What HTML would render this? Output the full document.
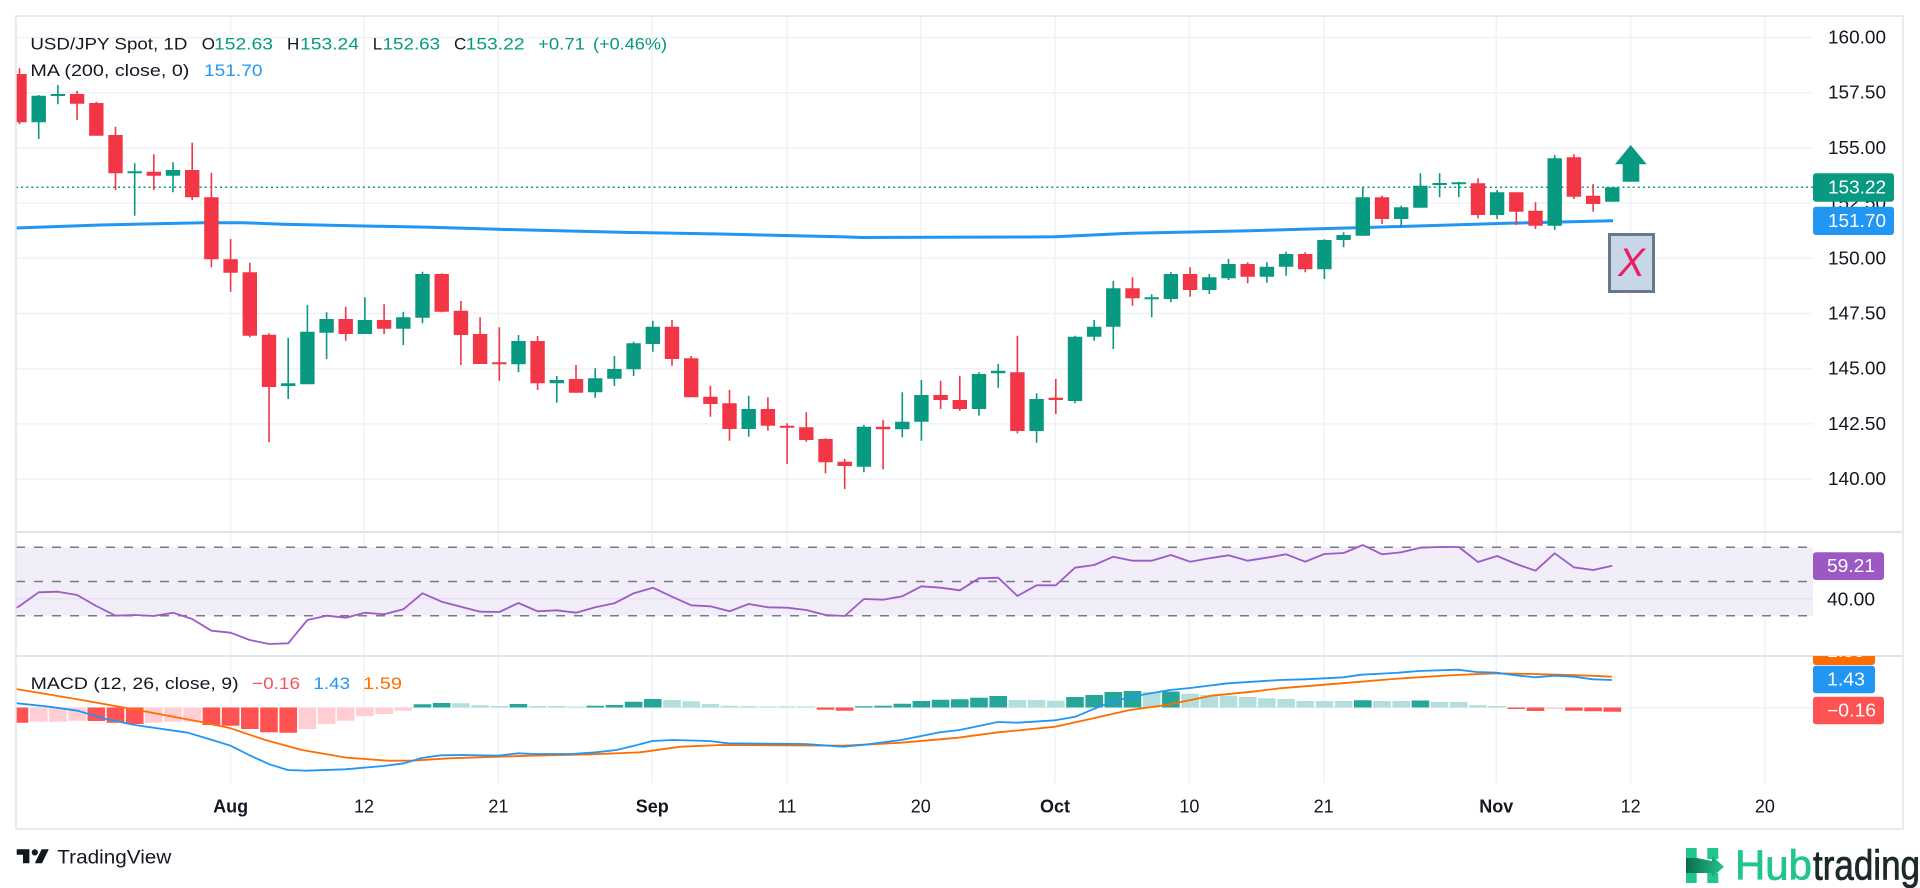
<!DOCTYPE html>
<html><head><meta charset="utf-8"><style>
html,body{margin:0;padding:0;background:#fff;}
svg{display:block;font-family:"Liberation Sans",Arial,sans-serif;}
</style></head><body>
<svg width="1920" height="888" viewBox="0 0 1920 888" xmlns="http://www.w3.org/2000/svg">
<defs>
<clipPath id="cm"><rect x="16" y="16" width="1797" height="516"/></clipPath>
<clipPath id="cr"><rect x="16" y="532" width="1797" height="124"/></clipPath>
<clipPath id="cd"><rect x="16" y="656" width="1797" height="127"/></clipPath>
<clipPath id="co"><rect x="1800" y="656" width="120" height="40"/></clipPath>
<linearGradient id="hg" x1="0" y1="0" x2="1" y2="0"><stop offset="0" stop-color="#0c6b48"/><stop offset="1" stop-color="#22c58b"/></linearGradient>
</defs>
<rect x="0" y="0" width="1920" height="888" fill="#fff"/>

<!-- gridlines -->
<g stroke="#f0f2f6" stroke-width="1.5">
<line x1="16" x2="1813" y1="37.5" y2="37.5"/><line x1="16" x2="1813" y1="92.7" y2="92.7"/><line x1="16" x2="1813" y1="147.9" y2="147.9"/><line x1="16" x2="1813" y1="203.1" y2="203.1"/><line x1="16" x2="1813" y1="258.3" y2="258.3"/><line x1="16" x2="1813" y1="313.5" y2="313.5"/><line x1="16" x2="1813" y1="368.7" y2="368.7"/><line x1="16" x2="1813" y1="423.9" y2="423.9"/><line x1="16" x2="1813" y1="479.1" y2="479.1"/>
<line x1="230.6" x2="230.6" y1="16" y2="783"/><line x1="364" x2="364" y1="16" y2="783"/><line x1="498.4" x2="498.4" y1="16" y2="783"/><line x1="652.2" x2="652.2" y1="16" y2="783"/><line x1="787" x2="787" y1="16" y2="783"/><line x1="920.8" x2="920.8" y1="16" y2="783"/><line x1="1055" x2="1055" y1="16" y2="783"/><line x1="1189.4" x2="1189.4" y1="16" y2="783"/><line x1="1323.7" x2="1323.7" y1="16" y2="783"/><line x1="1496.3" x2="1496.3" y1="16" y2="783"/><line x1="1630.6" x2="1630.6" y1="16" y2="783"/><line x1="1764.9" x2="1764.9" y1="16" y2="783"/>
<line x1="16" x2="1813" y1="707.6" y2="707.6"/>
</g>

<!-- main pane -->
<g clip-path="url(#cm)">
<line x1="16" x2="1813" y1="187.3" y2="187.3" stroke="#089981" stroke-width="1.5" stroke-dasharray="2 3.1"/>
<polyline fill="none" stroke="#2196f3" stroke-width="3" stroke-linejoin="round" points="16,228 100,225 203,222.7 243,222.7 283,224.3 430,227.3 498,229.3 620,232.3 720,234 840,236.8 863,237.5 1030,237 1055,236.7 1130,233.3 1250,230.7 1373,227.3 1507,223.3 1613,220.7"/>
<path stroke="#089981" stroke-width="1.6" fill="none" d="M38.7 95V139M57.9 85V104.3M134.7 163.3V215.7M173 162.3V192.3M288.2 337.7V399M307.4 305V384.3M326.6 312.3V359M364.9 297.3V334M403.3 311.7V345M422.5 271.7V323.3M518.5 335V372.3M556.8 376V402.7M595.2 368.3V397.7M614.4 356V386M633.6 341.7V376M652.8 320.7V351.7M748.7 395.7V436.7M863.9 425V472.3M902.3 392.3V437.3M921.4 380V440.7M979 372.3V415.7M998.2 364V387.7M1036.6 393.3V442.7M1075 335.7V403.3M1094.2 320V340.7M1113.3 280.7V349M1151.7 294.3V317.3M1170.9 272.3V302.3M1209.3 274V294M1228.5 259V280M1266.9 262.3V282.7M1286.1 251.7V275.7M1324.4 239.3V279M1343.6 232.3V247.3M1362.8 186.7V235.7M1401.2 205.7V226.7M1420.4 173.3V207.7M1439.6 173.3V197.3M1458.8 181.7V197.3M1497.1 190V219M1554.7 155V230M1612.3 186.7V201.7"/>
<path fill="#089981" d="M31.5 95.7h14.4V122.3h-14.4ZM50.7 94h14.4V96h-14.4ZM127.5 171.3h14.4V173.3h-14.4ZM165.8 170h14.4V175.7h-14.4ZM281 383.3h14.4V386h-14.4ZM300.2 331.7h14.4V384.3h-14.4ZM319.4 319h14.4V332.7h-14.4ZM357.7 320h14.4V334h-14.4ZM396.1 317.3h14.4V328.7h-14.4ZM415.3 274h14.4V317.7h-14.4ZM511.3 341h14.4V364.3h-14.4ZM549.6 380h14.4V383.3h-14.4ZM588 378.3h14.4V392.3h-14.4ZM607.2 369h14.4V378.7h-14.4ZM626.4 343.3h14.4V369.3h-14.4ZM645.6 326.7h14.4V344h-14.4ZM741.5 409h14.4V429h-14.4ZM856.7 426.7h14.4V466.7h-14.4ZM895.1 421.7h14.4V429.3h-14.4ZM914.2 395h14.4V421.7h-14.4ZM971.8 374h14.4V409h-14.4ZM991 370.7h14.4V373.3h-14.4ZM1029.4 399h14.4V431h-14.4ZM1067.8 336.7h14.4V401h-14.4ZM1087 326.7h14.4V336.7h-14.4ZM1106.1 288.3h14.4V326.7h-14.4ZM1144.5 297.3h14.4V299.3h-14.4ZM1163.7 274h14.4V299h-14.4ZM1202.1 277.3h14.4V290h-14.4ZM1221.3 264h14.4V278.3h-14.4ZM1259.7 266.7h14.4V276.7h-14.4ZM1278.9 254h14.4V266.7h-14.4ZM1317.2 240h14.4V269.3h-14.4ZM1336.4 235h14.4V240h-14.4ZM1355.6 197.3h14.4V235.7h-14.4ZM1394 207.3h14.4V219h-14.4ZM1413.2 185.7h14.4V207.7h-14.4ZM1432.4 183h14.4V185h-14.4ZM1451.6 182.3h14.4V184.3h-14.4ZM1489.9 192.3h14.4V215h-14.4ZM1547.5 158.3h14.4V225.7h-14.4ZM1605.1 187.3h14.4V201.7h-14.4Z"/>
<path stroke="#f23645" stroke-width="1.6" fill="none" d="M19.5 68.3V124.3M77.1 91V120M96.3 101.7V135.7M115.5 126.7V190M153.8 154.3V190M192.2 142.7V200M211.4 172.7V267.3M230.6 239V291.7M249.8 262.7V337.3M269 333.3V442.3M345.7 306.7V340.7M384.1 304.3V334M441.7 273.3V312.3M460.9 301V365M480.1 317.3V364M499.3 327.3V380.7M537.6 336V390M576 365V392.7M672 320V365.7M691.2 356V397.3M710.4 385.7V416.7M729.5 390V440.7M767.9 397.3V430.7M787.1 423.3V464M806.3 412.3V441.7M825.5 438.3V473.3M844.7 459V489M883.1 420V469.3M940.6 380.7V409M959.8 375.7V410.7M1017.4 335.7V433.3M1055.8 379V414M1132.5 277.3V305.7M1190.1 267.3V296.7M1247.7 262.3V283.3M1305.2 252.3V272.3M1382 195.7V224M1478 178.3V218.3M1516.3 192.3V225M1535.5 202.3V229M1573.9 154.3V199M1593.1 184V211.7"/>
<path fill="#f23645" d="M12.3 74h14.4V122.3h-14.4ZM69.9 94h14.4V103.7h-14.4ZM89.1 103h14.4V135.7h-14.4ZM108.3 135h14.4V173.3h-14.4ZM146.6 171.7h14.4V175.7h-14.4ZM185 170h14.4V197.3h-14.4ZM204.2 197.3h14.4V259.3h-14.4ZM223.4 259.3h14.4V272.7h-14.4ZM242.6 272.3h14.4V335.7h-14.4ZM261.8 334.7h14.4V387h-14.4ZM338.5 319h14.4V334h-14.4ZM376.9 320h14.4V328.7h-14.4ZM434.5 274h14.4V311.7h-14.4ZM453.7 310.7h14.4V335h-14.4ZM472.9 334h14.4V364h-14.4ZM492.1 362.3h14.4V364.3h-14.4ZM530.4 341h14.4V383.3h-14.4ZM568.8 379h14.4V392.7h-14.4ZM664.8 326.7h14.4V359h-14.4ZM684 358.3h14.4V397.3h-14.4ZM703.2 396.7h14.4V404h-14.4ZM722.3 403.3h14.4V429h-14.4ZM760.7 409h14.4V425.7h-14.4ZM779.9 425.7h14.4V427.7h-14.4ZM799.1 427.3h14.4V440h-14.4ZM818.3 439h14.4V462.3h-14.4ZM837.5 461.7h14.4V466h-14.4ZM875.9 426.7h14.4V429.3h-14.4ZM933.4 395h14.4V400h-14.4ZM952.6 400h14.4V409h-14.4ZM1010.2 372.3h14.4V431h-14.4ZM1048.6 397.7h14.4V400h-14.4ZM1125.3 288.3h14.4V298.3h-14.4ZM1182.9 274h14.4V290h-14.4ZM1240.5 264h14.4V276.7h-14.4ZM1298 254h14.4V269.3h-14.4ZM1374.8 197.3h14.4V219h-14.4ZM1470.8 183.3h14.4V215h-14.4ZM1509.1 192.3h14.4V211.7h-14.4ZM1528.3 210.7h14.4V225.7h-14.4ZM1566.7 157.3h14.4V196.7h-14.4ZM1585.9 195.7h14.4V204h-14.4Z"/>
<!-- annotations -->
<polygon fill="#089981" points="1630.7,145 1646.7,164.3 1639.3,164.3 1639.3,181.7 1622.7,181.7 1622.7,164.3 1615,164.3"/>
<rect x="1609.5" y="234.5" width="44" height="57" fill="#c9d6e7" stroke="#67798b" stroke-width="3"/>
<text x="1631.5" y="263" font-size="40" font-style="italic" fill="#e91e63" text-anchor="middle" dominant-baseline="central">X</text>
</g>

<!-- legend -->
<g font-size="17" dominant-baseline="central">
<text x="30.4" y="44" fill="#131722" textLength="157" lengthAdjust="spacingAndGlyphs">USD/JPY Spot, 1D</text>
<text x="201.8" y="44" fill="#131722">O</text><text x="214" y="44" fill="#089981" textLength="59" lengthAdjust="spacingAndGlyphs">152.63</text>
<text x="287" y="44" fill="#131722">H</text><text x="300" y="44" fill="#089981" textLength="59" lengthAdjust="spacingAndGlyphs">153.24</text>
<text x="372.8" y="44" fill="#131722">L</text><text x="382.6" y="44" fill="#089981" textLength="57.5" lengthAdjust="spacingAndGlyphs">152.63</text>
<text x="454" y="44" fill="#131722">C</text><text x="465.6" y="44" fill="#089981" textLength="59" lengthAdjust="spacingAndGlyphs">153.22</text>
<text x="538" y="44" fill="#089981" textLength="47" lengthAdjust="spacingAndGlyphs">+0.71</text><text x="593" y="44" fill="#089981" textLength="74" lengthAdjust="spacingAndGlyphs">(+0.46%)</text>
<text x="30.4" y="70.5" fill="#131722" textLength="159" lengthAdjust="spacingAndGlyphs">MA (200, close, 0)</text>
<text x="204" y="70.5" fill="#2196f3" textLength="58.5" lengthAdjust="spacingAndGlyphs">151.70</text>
<text x="30.6" y="559" fill="#131722" textLength="67.4" lengthAdjust="spacingAndGlyphs">RSI (14)</text>
<text x="111" y="559" fill="#9c5bc7" textLength="47" lengthAdjust="spacingAndGlyphs">59.21</text>
<text x="30.6" y="683.3" fill="#131722" textLength="208" lengthAdjust="spacingAndGlyphs">MACD (12, 26, close, 9)</text>
<text x="252" y="683.3" fill="#f7525f" textLength="48" lengthAdjust="spacingAndGlyphs">−0.16</text>
<text x="313.5" y="683.3" fill="#2196f3" textLength="36.5" lengthAdjust="spacingAndGlyphs">1.43</text>
<text x="363" y="683.3" fill="#ff6d00" textLength="39" lengthAdjust="spacingAndGlyphs">1.59</text>
</g>

<!-- RSI pane -->
<rect x="16" y="547.3" width="1797" height="68.4" fill="#f1edf9"/>
<line x1="16" x2="1813" y1="598.6" y2="598.6" stroke="#e6e1ef" stroke-width="1.5"/>
<g stroke="#787b86" stroke-width="1.5" stroke-dasharray="9 9">
<line x1="16" x2="1813" y1="547.3" y2="547.3"/><line x1="16" x2="1813" y1="581.5" y2="581.5"/><line x1="16" x2="1813" y1="615.7" y2="615.7"/>
</g>
<g clip-path="url(#cr)">
<polyline fill="none" stroke="#9c5bc7" stroke-width="1.8" stroke-linejoin="round" points="16,608 19.5,606 38.7,592.3 57.9,591.7 77.1,595 96.3,606 115.5,615.7 134.7,615 153.8,616 173,612.7 192.2,619 211.4,630.7 230.6,632.7 249.8,640 269,644 288.2,643.3 307.4,620 326.6,615.7 345.7,617.7 364.9,612.7 384.1,614.3 403.3,609.3 422.5,593.3 441.7,601.7 460.9,606.7 480.1,611.7 499.3,612 518.5,603 537.6,611.3 556.8,610.3 576,612.7 595.2,607.3 614.4,603.3 633.6,593.3 652.8,587.7 672,596.7 691.2,605.3 710.4,606.3 729.5,611.3 748.7,604 767.9,607.3 787.1,607.7 806.3,610 825.5,615 844.7,616 863.9,599 883.1,599.7 902.3,596.3 921.4,586.3 940.6,587.7 959.8,590.3 979,578.3 998.2,577.7 1017.4,596 1036.6,585.3 1055.8,585.3 1075,567.7 1094.2,565 1113.3,556.7 1132.5,560.7 1151.7,560.7 1170.9,555 1190.1,561.7 1209.3,558.3 1228.5,555.3 1247.7,560.7 1266.9,557.7 1286.1,554.3 1305.2,561.7 1324.4,554 1343.6,553 1362.8,545 1382,554.3 1401.2,552.3 1420.4,547.7 1439.6,547 1458.8,547 1478,562 1497.1,556 1516.3,564 1535.5,570.7 1554.7,553.3 1573.9,567.3 1593.1,570 1612.3,565.7"/>
</g>

<!-- MACD pane -->
<g clip-path="url(#cd)">
<path fill="#ff5252" d="M10.7 707.5h17.6V722.7h-17.6ZM87.5 707.5h17.6V721h-17.6ZM106.7 707.5h17.6V722.7h-17.6ZM125.9 707.5h17.6V724h-17.6ZM202.6 707.5h17.6V725h-17.6ZM221.8 707.5h17.6V725.7h-17.6ZM241 707.5h17.6V729h-17.6ZM260.2 707.5h17.6V732.3h-17.6ZM279.4 707.5h17.6V732.7h-17.6ZM816.7 707.5h17.6V709.7h-17.6ZM835.9 707.5h17.6V710.7h-17.6ZM1507.5 707.5h17.6V709h-17.6ZM1526.7 707.5h17.6V711h-17.6ZM1565.1 707.5h17.6V710.7h-17.6ZM1584.3 707.5h17.6V711.3h-17.6ZM1603.5 707.5h17.6V711.7h-17.6Z"/>
<path fill="#ffcdd2" d="M29.9 707.5h17.6V721.7h-17.6ZM49.1 707.5h17.6V721.7h-17.6ZM68.3 707.5h17.6V720.7h-17.6ZM145 707.5h17.6V722.7h-17.6ZM164.2 707.5h17.6V721.7h-17.6ZM183.4 707.5h17.6V721.7h-17.6ZM298.6 707.5h17.6V729h-17.6ZM317.8 707.5h17.6V724h-17.6ZM336.9 707.5h17.6V720.7h-17.6ZM356.1 707.5h17.6V716.3h-17.6ZM375.3 707.5h17.6V714h-17.6ZM394.5 707.5h17.6V710.7h-17.6ZM1545.9 707.5h17.6V709h-17.6Z"/>
<path fill="#26a69a" d="M413.7 704.3h17.6V707.5h-17.6ZM432.9 703h17.6V707.5h-17.6ZM509.7 704h17.6V707.5h-17.6ZM586.4 705.7h17.6V707.5h-17.6ZM605.6 705h17.6V707.5h-17.6ZM624.8 701.7h17.6V707.5h-17.6ZM644 699h17.6V707.5h-17.6ZM855.1 706.3h17.6V707.5h-17.6ZM874.3 705.7h17.6V707.5h-17.6ZM893.5 703.7h17.6V707.5h-17.6ZM912.6 701h17.6V707.5h-17.6ZM931.8 699.7h17.6V707.5h-17.6ZM951 699.3h17.6V707.5h-17.6ZM970.2 697.7h17.6V707.5h-17.6ZM989.4 696h17.6V707.5h-17.6ZM1066.2 697h17.6V707.5h-17.6ZM1085.4 695h17.6V707.5h-17.6ZM1104.5 692h17.6V707.5h-17.6ZM1123.7 691h17.6V707.5h-17.6ZM1162.1 691.5h17.6V707.5h-17.6ZM1354 700.3h17.6V707.5h-17.6ZM1411.6 700.5h17.6V707.5h-17.6Z"/>
<path fill="#b2dfdb" d="M452.1 703.3h17.6V707.5h-17.6ZM471.3 705.3h17.6V707.5h-17.6ZM490.5 706h17.6V707.5h-17.6ZM528.8 706h17.6V707.5h-17.6ZM548 706h17.6V707.5h-17.6ZM567.2 706.5h17.6V707.5h-17.6ZM663.2 700h17.6V707.5h-17.6ZM682.4 701.3h17.6V707.5h-17.6ZM701.6 704h17.6V707.5h-17.6ZM720.7 705.7h17.6V707.5h-17.6ZM739.9 706.3h17.6V707.5h-17.6ZM759.1 706.4h17.6V707.5h-17.6ZM778.3 706.4h17.6V707.5h-17.6ZM797.5 706.4h17.6V707.5h-17.6ZM1008.6 700h17.6V707.5h-17.6ZM1027.8 700h17.6V707.5h-17.6ZM1047 700.7h17.6V707.5h-17.6ZM1142.9 692h17.6V707.5h-17.6ZM1181.3 693.7h17.6V707.5h-17.6ZM1200.5 695h17.6V707.5h-17.6ZM1219.7 695.7h17.6V707.5h-17.6ZM1238.9 697h17.6V707.5h-17.6ZM1258.1 698.3h17.6V707.5h-17.6ZM1277.3 699h17.6V707.5h-17.6ZM1296.4 701h17.6V707.5h-17.6ZM1315.6 701h17.6V707.5h-17.6ZM1334.8 701h17.6V707.5h-17.6ZM1373.2 701h17.6V707.5h-17.6ZM1392.4 701h17.6V707.5h-17.6ZM1430.8 702h17.6V707.5h-17.6ZM1450 702h17.6V707.5h-17.6ZM1469.2 705.3h17.6V707.5h-17.6ZM1488.3 706h17.6V707.5h-17.6Z"/>
<polyline fill="none" stroke="#ff6d00" stroke-width="1.8" stroke-linejoin="round" points="16,689 81.6,700 142.9,711 200,721.7 230.6,728.3 265.3,740 302,750 347,757.7 387.8,760.7 412.2,760.7 449,758.3 530.6,755.7 591.8,754.3 640,752.3 680.8,746.7 721.6,745 844,745.7 901.2,742.7 958.4,737.7 995.1,732.7 1055.1,726.7 1089,719.3 1129.8,710 1166.5,705 1211.4,695.7 1252.2,691.7 1280,688.3 1341.2,683.3 1402.4,678.3 1455.5,675 1496.3,673.3 1533,674 1557.6,674.7 1590.2,675.7 1611.8,676.7"/>
<polyline fill="none" stroke="#2196f3" stroke-width="1.8" stroke-linejoin="round" points="16,703.2 49,706.7 77.6,710.7 106,719 134.7,725 187.8,732.7 212.2,740 230.6,745.7 249,755 269.4,764.3 287.8,770 306,770.7 345,769.3 383.7,766 404,763.3 421.6,758 440.8,755.3 461.2,755 498,755.7 518.4,753.3 534.7,754 571.4,754 595.9,752.3 616.3,750 640,744.3 652.2,741 672.7,740 709.4,741 727.8,743.3 766.5,743.7 805.3,744 842.9,746.7 862.4,745 901.2,740 940,732.3 959.6,730 998,722 1017.6,722.7 1055.1,720.3 1075.5,716.7 1093,709.3 1112.2,701.7 1131,696.7 1169.8,690 1190.2,688 1227.8,683.3 1280,680 1304.5,679.3 1324.9,678.3 1343.3,677.3 1361.6,674.7 1398.4,672.7 1418.8,671 1457.6,669.7 1476.7,672 1496.3,672.7 1515.9,675.3 1535.1,677.3 1554.7,675.7 1573.9,676.7 1593,679.3 1611.8,680"/>
</g>

<!-- borders / separators -->
<rect x="16" y="16" width="1887" height="813" fill="none" stroke="#e0e3eb" stroke-width="1.5"/>
<line x1="16" x2="1903" y1="532" y2="532" stroke="#e0e3eb" stroke-width="2"/>
<line x1="16" x2="1903" y1="656" y2="656" stroke="#e0e3eb" stroke-width="2"/>

<!-- price axis -->
<g font-size="18" fill="#131722" dominant-baseline="central">
<text x="1828" y="37.5" textLength="58" lengthAdjust="spacingAndGlyphs">160.00</text>
<text x="1828" y="92.7" textLength="58" lengthAdjust="spacingAndGlyphs">157.50</text>
<text x="1828" y="147.9" textLength="58" lengthAdjust="spacingAndGlyphs">155.00</text>
<text x="1828" y="203.1" textLength="58" lengthAdjust="spacingAndGlyphs">152.50</text>
<text x="1828" y="258.3" textLength="58" lengthAdjust="spacingAndGlyphs">150.00</text>
<text x="1828" y="313.5" textLength="58" lengthAdjust="spacingAndGlyphs">147.50</text>
<text x="1828" y="368.7" textLength="58" lengthAdjust="spacingAndGlyphs">145.00</text>
<text x="1828" y="423.9" textLength="58" lengthAdjust="spacingAndGlyphs">142.50</text>
<text x="1828" y="479.1" textLength="58" lengthAdjust="spacingAndGlyphs">140.00</text>
<text x="1827" y="599.3" textLength="48" lengthAdjust="spacingAndGlyphs">40.00</text>
</g>
<rect x="1813" y="173.3" width="81" height="28.4" rx="3" fill="#089981"/>
<rect x="1813" y="206.7" width="81" height="28.3" rx="3" fill="#2196f3"/>
<rect x="1813" y="552.3" width="71" height="27.7" rx="3" fill="#9c59c4"/>
<g clip-path="url(#co)"><rect x="1813" y="637" width="62" height="28" rx="3" fill="#ff6d00"/>
<text x="1827" y="651" font-size="18" fill="#fff" dominant-baseline="central" textLength="38" lengthAdjust="spacingAndGlyphs">1.59</text></g>
<rect x="1813" y="665.7" width="62" height="27.6" rx="3" fill="#2196f3"/>
<rect x="1813" y="696.7" width="71" height="27.6" rx="3" fill="#ff5252"/>
<g font-size="18" fill="#fff" dominant-baseline="central">
<text x="1828" y="187.5" textLength="58" lengthAdjust="spacingAndGlyphs">153.22</text>
<text x="1828" y="221" textLength="58" lengthAdjust="spacingAndGlyphs">151.70</text>
<text x="1827" y="566.2" textLength="48" lengthAdjust="spacingAndGlyphs">59.21</text>
<text x="1827" y="679.5" textLength="38" lengthAdjust="spacingAndGlyphs">1.43</text>
<text x="1827" y="710.5" textLength="49" lengthAdjust="spacingAndGlyphs">−0.16</text>
</g>

<!-- time axis -->
<g font-size="18" fill="#131722" text-anchor="middle" dominant-baseline="central">
<text x="230.6" y="806.7" font-weight="bold">Aug</text>
<text x="364" y="806.7">12</text>
<text x="498.4" y="806.7">21</text>
<text x="652.2" y="806.7" font-weight="bold">Sep</text>
<text x="787" y="806.7">11</text>
<text x="920.8" y="806.7">20</text>
<text x="1055" y="806.7" font-weight="bold">Oct</text>
<text x="1189.4" y="806.7">10</text>
<text x="1323.7" y="806.7">21</text>
<text x="1496.3" y="806.7" font-weight="bold">Nov</text>
<text x="1630.6" y="806.7">12</text>
<text x="1764.9" y="806.7">20</text>
</g>

<!-- TradingView logo -->
<g fill="#131722">
<polygon points="16.7,849.3 29.4,849.3 29.4,863.3 23,863.3 23,854.8 16.7,854.8"/>
<circle cx="34.8" cy="852.4" r="3.1"/>
<polygon points="41.6,849.3 48.8,849.3 42,863.3 34.8,863.3"/>
<text x="57.3" y="863.3" font-size="19" textLength="114" lengthAdjust="spacingAndGlyphs">TradingView</text>
</g>

<!-- Hubtrading logo -->
<g>
<rect x="1686" y="848" width="10.7" height="13" fill="#22c58b"/>
<rect x="1686" y="869" width="10.7" height="14" fill="#22c58b"/>
<rect x="1707.3" y="848" width="11" height="11" fill="#22c58b"/>
<rect x="1707.3" y="873" width="11" height="10" fill="#22c58b"/>
<polygon points="1686,858 1697,858 1712,861 1712,856 1724,866.7 1712,877 1712,873 1686,873" fill="url(#hg)"/>
<text x="1735" y="879.3" font-size="42" fill="#22c58b" stroke="#22c58b" stroke-width="0.8" textLength="77" lengthAdjust="spacingAndGlyphs">Hub</text>
<text x="1813" y="879.3" font-size="42" fill="#1e2929" stroke="#1e2929" stroke-width="0.8" textLength="107" lengthAdjust="spacingAndGlyphs">trading</text>
</g>
</svg>
</body></html>
